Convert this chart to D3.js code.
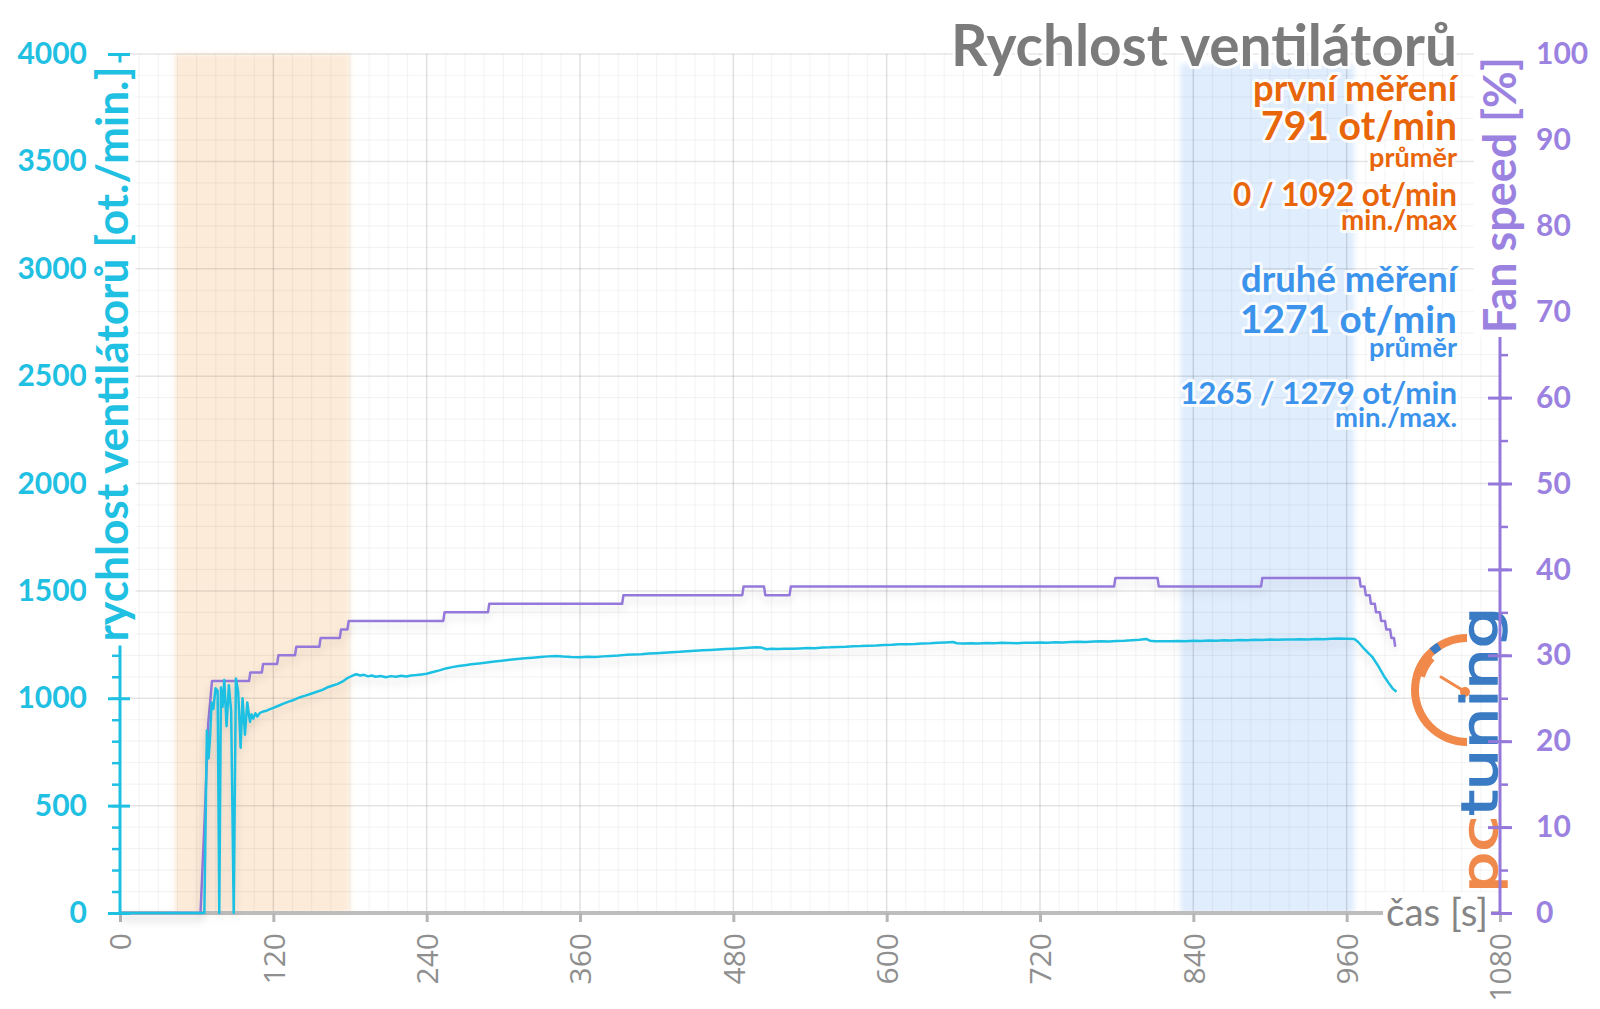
<!DOCTYPE html>
<html><head><meta charset="utf-8">
<script src="https://cdn.jsdelivr.net/npm/d3@7"></script>
<style>body{margin:0;background:#fff;} svg{display:block;}</style>
</head><body>
<svg id="chart" width="1600" height="1009"></svg>
<script>
// ---------------- DATA ----------------
const rpmTime = [0,66,68,69.3,70.4,71.7,73,74.8,76.4,77.7,79,80.3,81.6,83.4,85.2,87,89,90.7,92.5,94.4,95.9,97.8,99.6,101.7,103,104.3,106,107.5,109.5,112,114.7,117,120,124,128,132,136,141,145,149,154,158,162,166,170,174,177,180,183,185,188,191,194,197,200,204,208,212,216,220,224,228,232,236,240,245,250,255,260,265,270,275,281,287,293,299,305,311,317,323,329,335,341,347,353,360,366,372,378,384,390,396,402,408,414,420,426,432,438,444,450,456,462,468,474,480,486,492,498,502,506,510,515,520,526,532,538,544,550,556,562,568,574,580,586,592,598,604,610,616,622,628,634,640,646,652,655,660,666,672,678,684,690,696,702,708,714,720,726,732,738,744,750,756,762,768,774,780,786,792,798,803,806,810,816,822,828,834,840,846,852,858,864,870,876,882,888,894,900,906,912,918,924,930,936,942,948,954,960,966,969,973,977,980,985,989,993,996,999];
const rpmValue = [0,0,850,720,805,980,950,1047,1035,0,1050,960,1085,870,1060,940,0,1092,1030,770,1000,830,980,890,925,905,930,915,932,938,942,948,955,965,975,984,992,1005,1012,1020,1030,1038,1050,1058,1066,1077,1090,1100,1108,1112,1106,1109,1102,1106,1100,1104,1098,1103,1100,1105,1101,1106,1108,1111,1114,1122,1130,1139,1145,1150,1154,1158,1162,1166,1171,1175,1179,1183,1186,1189,1192,1195,1197,1194,1192,1191,1193,1192,1195,1197,1199,1202,1204,1205,1208,1210,1212,1214,1216,1219,1221,1223,1225,1227,1229,1231,1233,1235,1237,1236,1228,1230,1229,1231,1230,1232,1234,1233,1236,1237,1239,1240,1242,1243,1245,1246,1248,1249,1251,1252,1253,1255,1256,1258,1260,1262,1256,1255,1256,1255,1257,1256,1258,1257,1256,1259,1258,1260,1259,1261,1260,1262,1263,1262,1264,1265,1264,1267,1268,1270,1272,1276,1268,1265,1266,1265,1267,1266,1268,1267,1269,1268,1270,1269,1271,1270,1272,1271,1273,1272,1274,1273,1275,1274,1276,1275,1277,1278,1277,1276,1262,1235,1210,1193,1147,1105,1070,1045,1030];

const fanTime  = [0,63,66,69,72,101,102,111,112,123,124,137,138,156,157,172,173,178,179,253,254,288,289,393,394,487,488,504,505,524,525,778,779,812,813,893,894,970,971,974,975,978,979,982,983,986,987,990,991,994,995,997,998];
const fanValue = [0,0,10,22,27,27,28,28,29,29,30,30,31,31,32,32,33,33,34,34,35,35,36,36,37,37,38,38,37,37,38,38,39,39,38,38,39,39,38,38,37,37,36,36,35,35,34,34,33,33,32,32,31];

const xTicks   = [0,120,240,360,480,600,720,840,960,1080];
const rpmTicks = [0,500,1000,1500,2000,2500,3000,3500,4000];
const fanTicks = [0,10,20,30,40,50,60,70,80,90,100];
const bandFirst  = [43,180];
const bandSecond = [830,966];

const titleText = "Rychlost ventilátorů";
const leftTitle = "rychlost ventilátorů [ot./min.]";
const rightTitle = "Fan speed [%]";
const xTitle = "čas [s]";
const notesFirst  = ["první měření","791 ot/min","průměr","0 / 1092 ot/min","min./max"];
const notesSecond = ["druhé měření","1271 ot/min","průměr","1265 / 1279 ot/min","min./max."];

// ---------------- LAYOUT ----------------
const svg = d3.select("#chart");
const L = 120, R = 1500, T = 54, B = 913;
const x  = d3.scaleLinear().domain([0,1080]).range([L,R]);
const yL = d3.scaleLinear().domain([0,4000]).range([B,T]);
const yR = d3.scaleLinear().domain([0,100]).range([B,T]);

const CYAN = "#1fc0e2", PURPLE = "#9479da", PURPLE_T = "#9b82e0", GRAY = "#7b7b7b";
const ORANGE = "#e8650a", BLUE = "#3b93ec";
const FONT = "Lato, 'Open Sans', sans-serif";

const defs = svg.append("defs");
const blur = defs.append("filter").attr("id","soft").attr("x","-20%").attr("y","-5%").attr("width","140%").attr("height","110%");
blur.append("feGaussianBlur").attr("stdDeviation",2.5);
const sh = defs.append("filter").attr("id","shadow").attr("x","-5%").attr("y","-20%").attr("width","110%").attr("height","160%");
sh.append("feDropShadow").attr("dx",0).attr("dy",5).attr("stdDeviation",4).attr("flood-color","#000").attr("flood-opacity",0.13);

function fit(sel, w){
  const n = sel.node();
  const cur = n.getComputedTextLength();
  const fs = parseFloat(sel.attr("font-size"));
  sel.attr("font-size", (fs*w/cur).toFixed(2));
  return sel;
}

// bands
svg.append("rect").attr("x",x(bandFirst[0])).attr("width",x(bandFirst[1])-x(bandFirst[0]))
  .attr("y",T).attr("height",B-T).attr("fill","#fdebd9").attr("filter","url(#soft)");
svg.append("rect").attr("x",x(bandSecond[0])).attr("width",x(bandSecond[1])-x(bandSecond[0]))
  .attr("y",T+10).attr("height",B-T-10).attr("fill","#e0edfd").attr("filter","url(#soft)");

// grid
const grid = svg.append("g");
grid.selectAll(".vm").data(d3.range(0,1081,15)).join("line")
  .attr("x1",d=>x(d)).attr("x2",d=>x(d)).attr("y1",T).attr("y2",B)
  .attr("stroke",d=>d%120===0?"rgba(0,0,0,0.12)":"rgba(0,0,0,0.045)").attr("stroke-width",d=>d%120===0?1.5:1.2);
grid.selectAll(".hm").data(d3.range(0,4001,100)).join("line")
  .attr("x1",L).attr("x2",R).attr("y1",d=>yL(d)).attr("y2",d=>yL(d))
  .attr("stroke",d=>d%500===0?"rgba(0,0,0,0.1)":"rgba(0,0,0,0.045)").attr("stroke-width",d=>d%500===0?1.5:1.2);

// x axis
const xa = svg.append("g").attr("transform",`translate(0,${B})`)
  .call(d3.axisBottom(x).tickValues(xTicks).tickSize(9).tickFormat(d3.format("d")));
xa.select(".domain").attr("stroke","#bdbdbd").attr("stroke-width",4).attr("d",`M${L},0H${R}`);
xa.selectAll(".tick line").attr("stroke","#b5b5b5").attr("stroke-width",3);
xa.selectAll(".tick text").attr("transform","rotate(-90)").attr("x",-20).attr("y",0).attr("dy","0.36em")
  .attr("text-anchor","end").attr("fill","#8f8f8f").attr("font-family","'Open Sans', sans-serif")
  .attr("font-size",30).attr("font-weight",400);

// lines
const fanData = fanTime.map((t,i)=>[t,fanValue[i]]);
const rpmData = rpmTime.map((t,i)=>[t,rpmValue[i]]);
svg.append("path").datum(fanData).attr("fill","none").attr("stroke",PURPLE).attr("stroke-width",2.5)
  .attr("stroke-linejoin","round").attr("filter","url(#shadow)")
  .attr("d",d3.line().x(d=>x(d[0])).y(d=>yR(d[1])));
svg.append("path").datum(rpmData).attr("fill","none").attr("stroke",CYAN).attr("stroke-width",2.5)
  .attr("stroke-linejoin","round").attr("filter","url(#shadow)")
  .attr("d",d3.line().x(d=>x(d[0])).y(d=>yL(d[1])));

// left axis
const lMinor = svg.append("g").attr("transform",`translate(${L},0)`)
  .call(d3.axisLeft(yL).tickValues(d3.range(0,4001,100)).tickSize(8).tickFormat(""));
lMinor.select(".domain").attr("stroke",CYAN).attr("stroke-width",3).attr("d",`M0,${B}V${T}`);
lMinor.selectAll(".tick line").attr("stroke",CYAN).attr("stroke-width",2.5);
const la = svg.append("g").attr("transform",`translate(${L},0)`)
  .call(d3.axisLeft(yL).tickValues(rpmTicks).tickSize(12).tickPadding(21).tickFormat(d3.format("d")));
la.select(".domain").remove();
la.selectAll(".tick line").attr("x1",10).attr("stroke",CYAN).attr("stroke-width",3);
la.selectAll(".tick text").attr("fill",CYAN).attr("font-family",FONT).attr("font-weight",700).attr("font-size",30);

// annotations
const noteSpec = [
  {t:notesFirst[0], y:101, w:204, fs:30, c:ORANGE},
  {t:notesFirst[1], y:140, w:196, fs:38, c:ORANGE},
  {t:notesFirst[2], y:167, w:88,  fs:22, c:ORANGE},
  {t:notesFirst[3], y:206, w:224, fs:31, c:ORANGE},
  {t:notesFirst[4], y:230, w:116, fs:22, c:ORANGE},
  {t:notesSecond[0], y:292, w:216, fs:31, c:BLUE},
  {t:notesSecond[1], y:333, w:217, fs:38, c:BLUE},
  {t:notesSecond[2], y:357, w:88,  fs:22, c:BLUE},
  {t:notesSecond[3], y:404, w:277, fs:30, c:BLUE},
  {t:notesSecond[4], y:427, w:122, fs:22, c:BLUE}
];
noteSpec.forEach(s=>{
  const t = svg.append("text").attr("x",1457).attr("y",s.y).attr("text-anchor","end")
    .attr("font-family",FONT).attr("font-weight",700).attr("font-size",s.fs).attr("fill",s.c)
    .attr("stroke","rgba(255,255,255,0.85)").attr("stroke-width",6).attr("stroke-linejoin","round")
    .attr("paint-order","stroke").text(s.t);
  fit(t, s.w);
});

// title
fit(svg.append("text").attr("x",1457).attr("y",66).attr("text-anchor","end")
  .attr("font-family",FONT).attr("font-weight",700).attr("font-size",56).attr("fill",GRAY)
  .attr("stroke","rgba(255,255,255,0.9)").attr("stroke-width",6).attr("paint-order","stroke")
  .text(titleText), 506);

// logo
const logo = svg.append("g");
const arc = d3.arc();
logo.append("path").attr("transform","translate(1467,690)")
  .attr("d",arc({innerRadius:48,outerRadius:56,startAngle:Math.PI,endAngle:2*Math.PI})).attr("fill","#f0894a");
logo.append("path").attr("transform","translate(1467,690)")
  .attr("d",arc({innerRadius:44,outerRadius:56,startAngle:5.0,endAngle:5.45})).attr("fill","#f0894a");
logo.append("path").attr("transform","translate(1467,690)")
  .attr("d",arc({innerRadius:48,outerRadius:56,startAngle:5.55,endAngle:5.72})).attr("fill","#3a7bc4");
logo.append("line").attr("x1",1441).attr("y1",677).attr("x2",1464).attr("y2",691)
  .attr("stroke","#f0894a").attr("stroke-width",3).attr("stroke-linecap","round");
logo.append("circle").attr("cx",1465).attr("cy",692).attr("r",5).attr("fill","#f0894a");
const lt = logo.append("text").attr("transform","translate(1497,893) rotate(-90)")
  .attr("font-family","'DejaVu Sans', sans-serif").attr("font-weight",400).attr("font-size",50)
  .attr("textLength",286).attr("lengthAdjust","spacingAndGlyphs")
  .attr("stroke-width",1.5);
lt.append("tspan").attr("fill","#ef8a4c").attr("stroke","#ef8a4c").text("pc");
lt.append("tspan").attr("fill","#3a7bc4").attr("stroke","#3a7bc4").text("tuning");

// right axis
const rMinor = svg.append("g").attr("transform",`translate(${R},0)`)
  .call(d3.axisRight(yR).tickValues(d3.range(0,101,5)).tickSize(8).tickFormat(""));
rMinor.select(".domain").attr("stroke",PURPLE).attr("stroke-width",3).attr("d",`M0,${B}V${T}`);
rMinor.selectAll(".tick line").attr("stroke",PURPLE).attr("stroke-width",2.5);
const ra = svg.append("g").attr("transform",`translate(${R},0)`)
  .call(d3.axisRight(yR).tickValues(fanTicks).tickSize(12).tickPadding(24));
ra.select(".domain").remove();
ra.selectAll(".tick line").attr("x1",-12).attr("stroke",PURPLE).attr("stroke-width",3);
ra.selectAll(".tick text").attr("fill",PURPLE_T).attr("font-family",FONT).attr("font-weight",700).attr("font-size",30);

// axis titles with white background
function axisTitle(cx, cy, txt, color, w, fs){
  const g = svg.append("g").attr("transform",`translate(${cx},${cy}) rotate(-90)`);
  const bg = g.append("rect").attr("fill","#fff");
  const t = g.append("text").attr("text-anchor","middle").attr("dy","0.35em")
    .attr("font-family",FONT).attr("font-weight",700).attr("font-size",fs).attr("fill",color).text(txt);
  fit(t, w);
  const bb = t.node().getBBox();
  bg.attr("x",bb.x-4).attr("y",bb.y+2).attr("width",bb.width+8).attr("height",bb.height-4);
}
axisTitle(113, 354, leftTitle, CYAN, 575, 34);
axisTitle(1500, 195, rightTitle, PURPLE_T, 276, 34);

// x title
const xg = svg.append("g");
const xbg = xg.append("rect").attr("fill","#fff");
const xt = xg.append("text").attr("x",1488).attr("y",B).attr("dy","0.33em").attr("text-anchor","end")
  .attr("font-family",FONT).attr("font-weight",400).attr("font-size",32).attr("fill","#858585").text(xTitle);
fit(xt, 102);
const xb = xt.node().getBBox();
xbg.attr("x",xb.x-3).attr("y",xb.y+4).attr("width",xb.width+6).attr("height",xb.height-8);
</script>
</body></html>
